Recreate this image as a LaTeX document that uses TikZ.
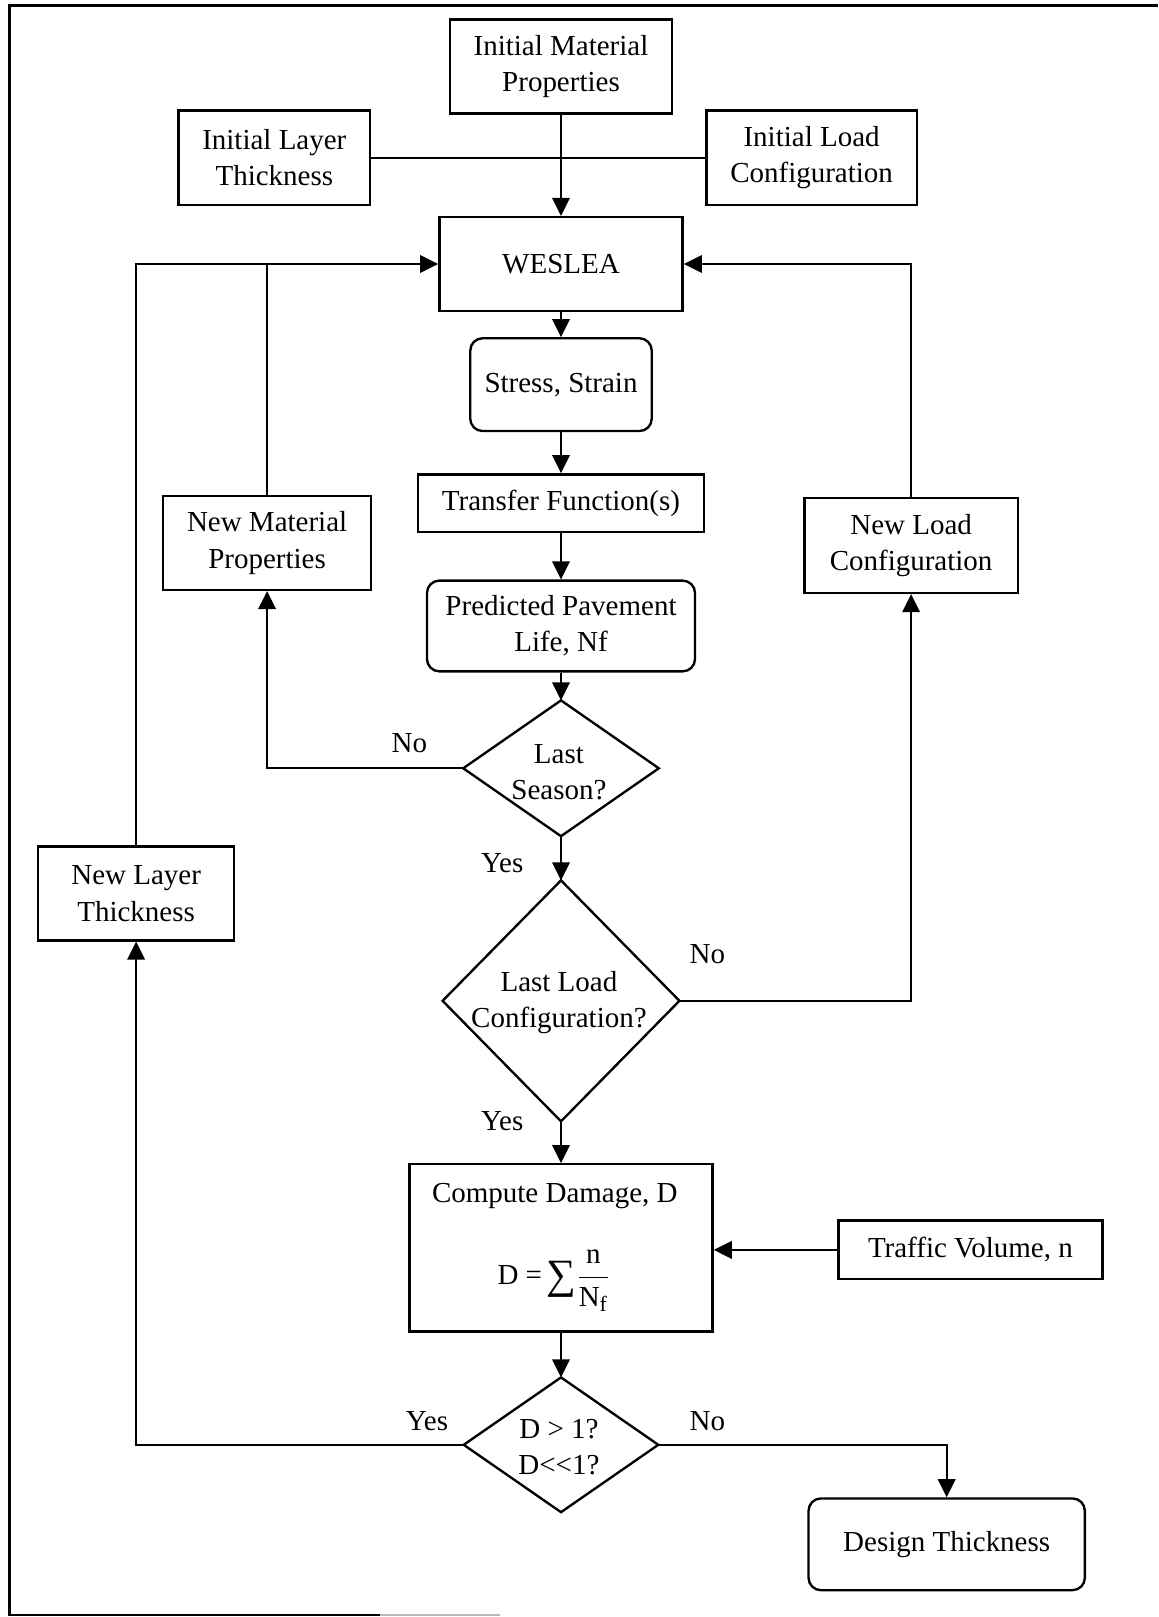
\documentclass[tikz,border=0pt]{standalone}
\usepackage{fontspec}
\setmainfont{Liberation Serif}
\usetikzlibrary{arrows.meta}
\begin{document}
\begin{tikzpicture}[x=0.02cm,y=-0.02cm,
  every node/.style={font=\fontsize{16}{20}\selectfont, align=center, inner sep=0pt},
  box/.style={draw, line width=1.3pt, rectangle},
  rbox/.style={draw, line width=1.3pt, rectangle, rounded corners=0.24cm},
  dia/.style={rectangle, draw=none},
  dline/.style={line width=1.3pt, line join=miter},
  conn/.style={line width=1.1pt},
  arr/.style={line width=1.1pt, -{Triangle[length=0.35cm,width=0.34cm]}},
  lab/.style={}]
\useasboundingbox (0,0) rectangle (1123,1568);
% frame
\draw[line width=1.6pt] (1123,5) -- (9,5) -- (9,1566) -- (368,1566);
\draw[line width=1.4pt, gray!55] (368,1566) -- (485,1566);

% nodes
\node[box, minimum width=4.30cm, minimum height=1.82cm] (mat) at (544,64.5) {Initial Material\\Properties};
\node[box, minimum width=3.72cm, minimum height=1.84cm] (layer) at (266,153) {Initial Layer\\Thickness};
\node[box, minimum width=4.08cm, minimum height=1.84cm] (load) at (787,153) {Initial Load\\Configuration};
\node[box, minimum width=4.72cm, minimum height=1.82cm] (weslea) at (544,256) {WESLEA};
\node[rbox, minimum width=3.52cm, minimum height=1.80cm] (stress) at (544,373) {Stress, Strain};
\node[box, minimum width=5.54cm, minimum height=1.12cm] (transfer) at (544,488) {Transfer Function(s)};
\node[box, minimum width=4.04cm, minimum height=1.82cm] (newmat) at (259,526.5) {New Material\\Properties};
\node[box, minimum width=4.14cm, minimum height=1.84cm] (newload) at (883.5,529) {New Load\\Configuration};
\node[rbox, minimum width=5.20cm, minimum height=1.76cm] (pred) at (544,607) {Predicted Pavement\\Life, Nf};
\node[dia, minimum width=3.78cm, minimum height=2.62cm] (d1) at (544,745) {};
\node (d1t) at (542,749) {Last\\Season?};
\node[dia, minimum width=4.58cm, minimum height=4.66cm] (d2) at (544,970.5) {};
\node (d2t) at (542,972) {Last Load\\Configuration?};
\node[box, minimum width=3.80cm, minimum height=1.82cm] (newlayer) at (132,866.5) {New Layer\\Thickness};
\node[box, minimum width=5.88cm, minimum height=3.24cm] (compute) at (544,1210) {};
\node (ctitle) at (538,1160) {Compute Damage, D};
\node[anchor=base] (cform) at (537,1246) {D =\,\raisebox{-0.12em}{\fontsize{23}{23}\selectfont ∑}$\displaystyle\frac{\mbox{n}}{\mbox{N}_{\mbox{\fontsize{12}{12}\selectfont f}}}$};
\node[box, minimum width=5.12cm, minimum height=1.14cm] (traffic) at (941,1212) {Traffic Volume, n};
\node[dia, minimum width=3.76cm, minimum height=2.60cm] (d3) at (544,1401) {};
\node (d3t) at (542,1403) {D > 1?\\D<{}<{}1?};
\node[rbox, minimum width=5.36cm, minimum height=1.78cm] (design) at (918,1497.5) {Design Thickness};

% diamonds
\foreach \d in {d1,d2,d3}
  \draw[dline] (\d.north) -- (\d.east) -- (\d.south) -- (\d.west) -- cycle;

% labels
\node[lab] (no1) at (397,721) {No};
\node[lab] (yes1) at (487,837) {Yes};
\node[lab] (no2) at (686,925) {No};
\node[lab] (yes2) at (487,1087) {Yes};
\node[lab] (yes3) at (414,1378) {Yes};
\node[lab] (no3) at (686,1378) {No};

% connectors
\draw[conn] (layer.east) -- (load.west);
\draw[arr] (mat.south) -- (weslea.north);
\draw[arr] (weslea.south) -- (stress.north);
\draw[arr] (stress.south) -- (transfer.north);
\draw[arr] (transfer.south) -- (pred.north);
\draw[arr] (pred.south) -- (d1.north);
\draw[arr] (d1.south) -- (d2.north);
\draw[arr] (d2.south) -- (compute.north);
\draw[arr] (compute.south) -- (d3.north);
\draw[arr] (traffic.west) -- (compute.east |- traffic.west);
\draw[arr] (d1.west) -| (newmat.south);
\draw[conn] (newmat.north) -- (newmat.north |- weslea.west);
\draw[arr] (newlayer.north) |- (weslea.west);
\draw[arr] (d2.east) -| (newload.south);
\draw[arr] (newload.north) |- (weslea.east);
\draw[arr] (d3.west) -| (newlayer.south);
\draw[arr] (d3.east) -| (design.north);
\end{tikzpicture}
\end{document}
